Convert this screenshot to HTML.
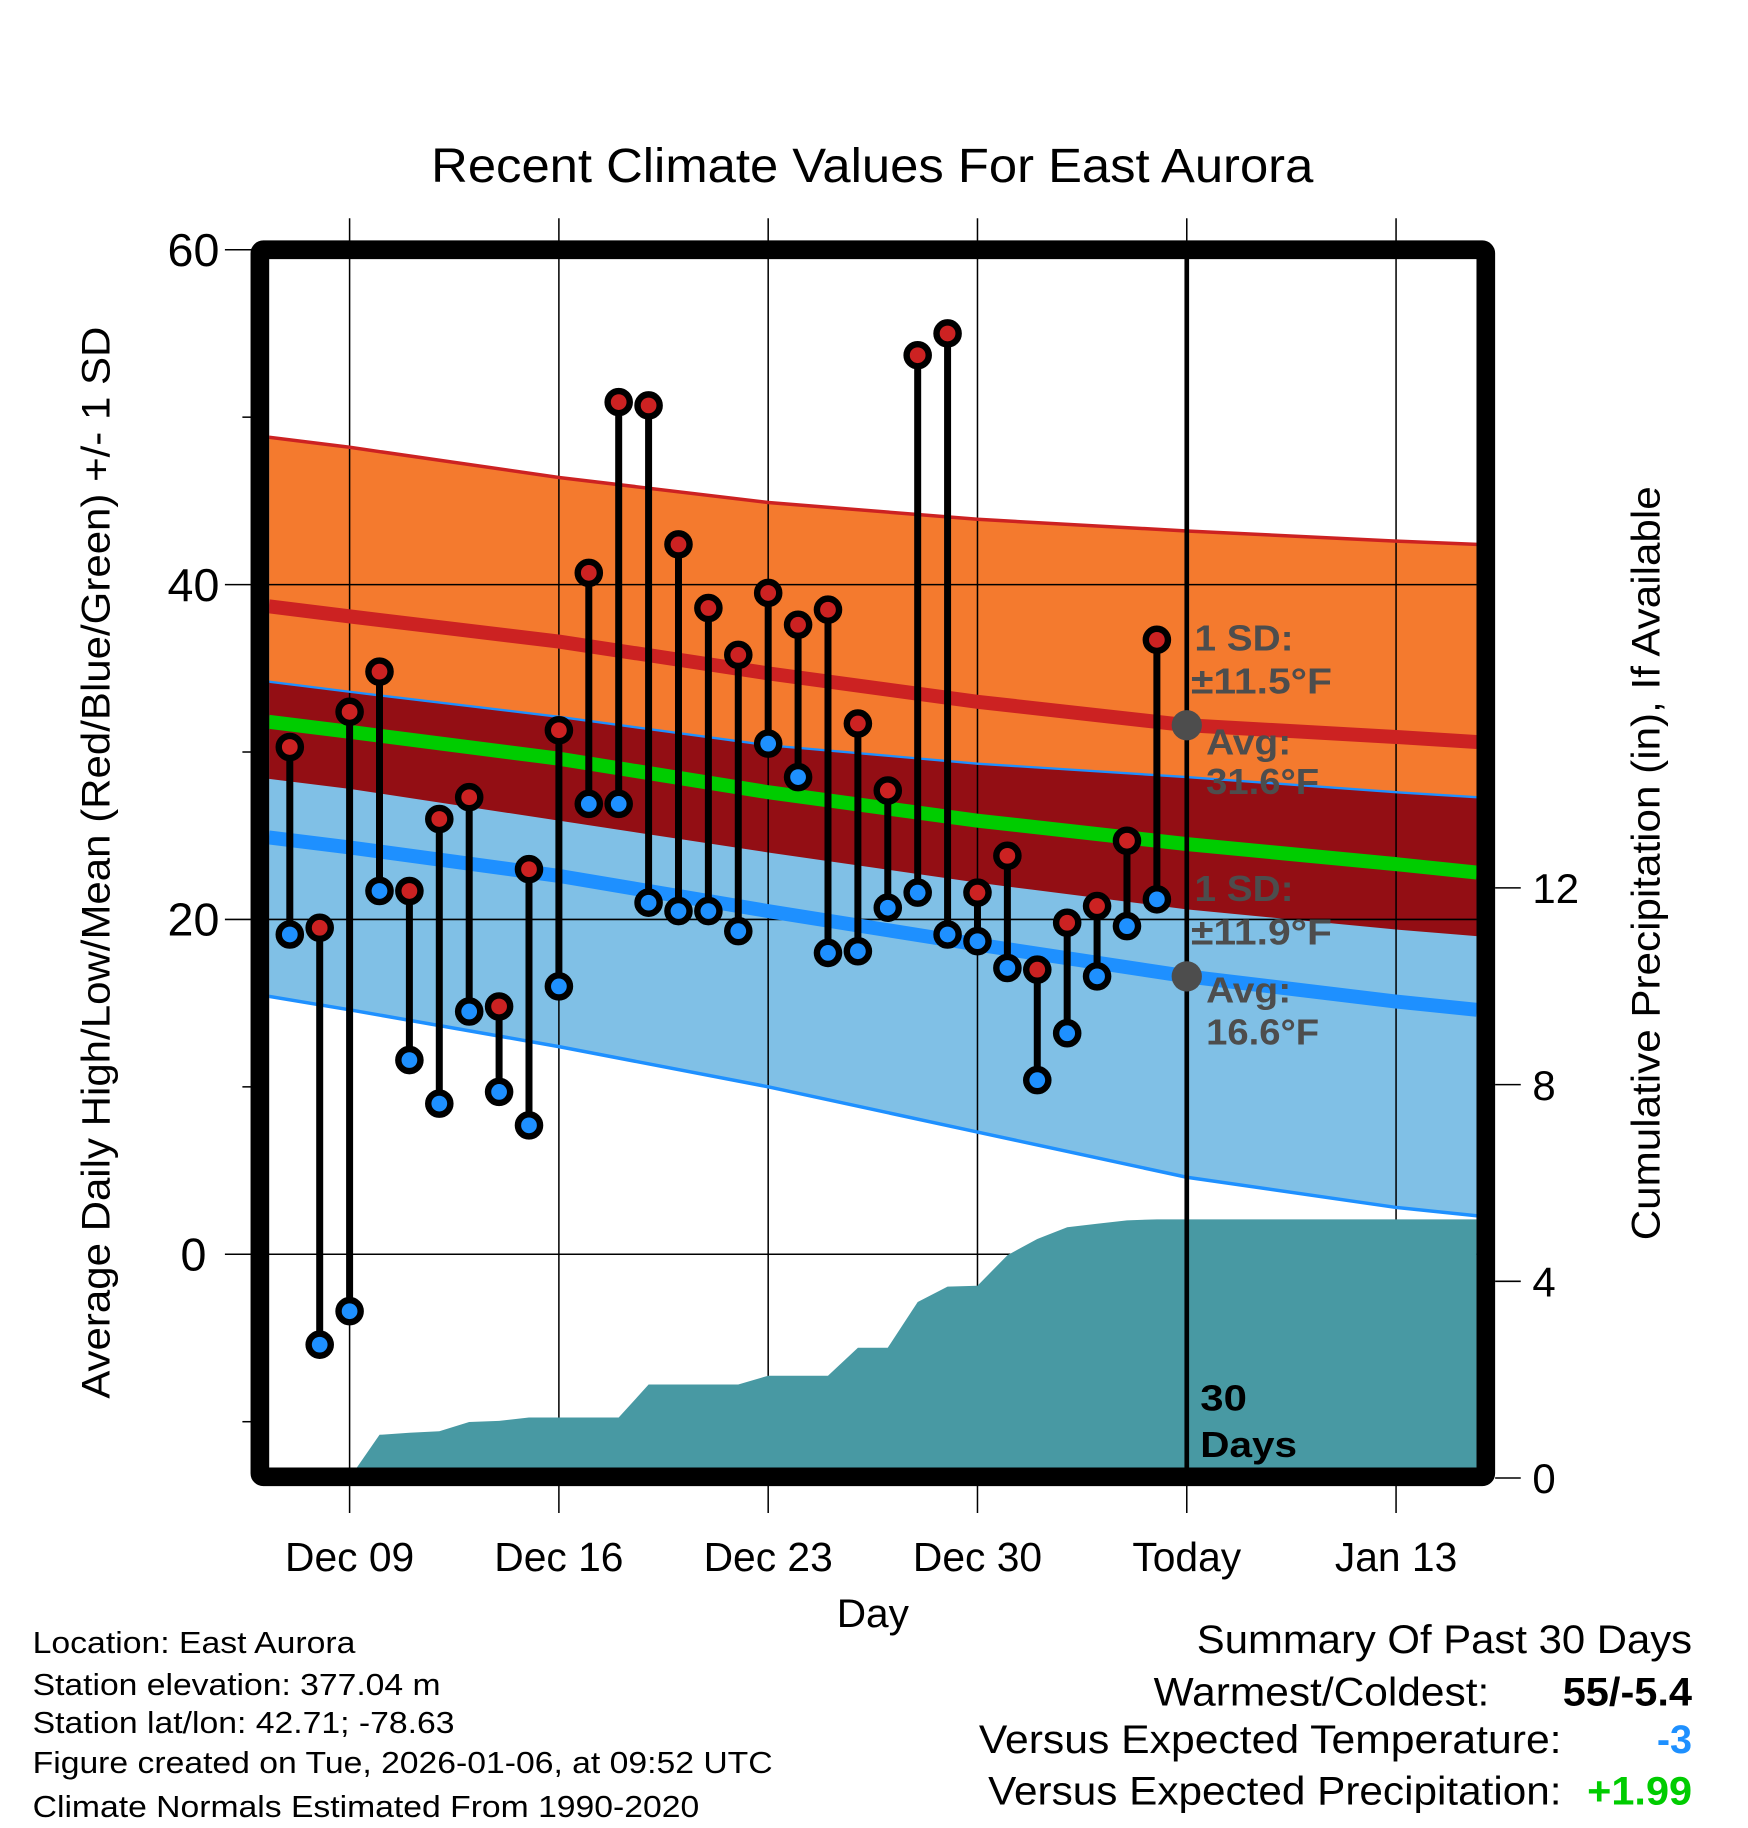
<!DOCTYPE html>
<html><head><meta charset="utf-8"><style>
html,body{margin:0;padding:0;background:#fff}
svg{display:block;font-family:"Liberation Sans",Arial,sans-serif}
</style></head><body>
<svg id="chart" width="1748" height="1828" viewBox="0 0 1500 1568" xmlns="http://www.w3.org/2000/svg">
<defs><clipPath id="plotclip"><rect x="231" y="222" width="1036" height="1038"/></clipPath></defs>
<g id="bands" clip-path="url(#plotclip)"></g>
<g id="grid"></g>
<g id="precip" clip-path="url(#plotclip)"></g>
<g id="lines" clip-path="url(#plotclip)"></g>
<g id="marks"></g>
<rect x="223" y="214" width="1052" height="1053" fill="none" stroke="#000" stroke-width="16" rx="3"/>
<g id="axes"></g>
<g fill="#4d4d4d" font-weight="bold" font-size="31" lengthAdjust="spacingAndGlyphs">
<text x="1025" y="558" textLength="85" lengthAdjust="spacingAndGlyphs">1 SD:</text>
<text x="1022" y="595" textLength="121" lengthAdjust="spacingAndGlyphs">±11.5°F</text>
<text x="1035" y="647" textLength="73" lengthAdjust="spacingAndGlyphs">Avg:</text>
<text x="1035" y="681" textLength="97" lengthAdjust="spacingAndGlyphs">31.6°F</text>
<text x="1025" y="773" textLength="85" lengthAdjust="spacingAndGlyphs">1 SD:</text>
<text x="1022" y="810" textLength="121" lengthAdjust="spacingAndGlyphs">±11.9°F</text>
<text x="1035" y="860" textLength="73" lengthAdjust="spacingAndGlyphs">Avg:</text>
<text x="1035" y="896" textLength="97" lengthAdjust="spacingAndGlyphs">16.6°F</text>
</g>
<g fill="#000" font-weight="bold" font-size="31">
<text x="1030" y="1210" textLength="40" lengthAdjust="spacingAndGlyphs">30</text><text x="1030" y="1250" textLength="83" lengthAdjust="spacingAndGlyphs">Days</text>
</g>
<text x="370" y="156" textLength="757" lengthAdjust="spacingAndGlyphs" font-size="41">Recent Climate Values For East Aurora</text>
<text x="718" y="1396" textLength="62" lengthAdjust="spacingAndGlyphs" font-size="34">Day</text>
<text transform="translate(94,740) rotate(-90)" x="-460" y="0" textLength="920" lengthAdjust="spacingAndGlyphs" font-size="34">Average Daily High/Low/Mean (Red/Blue/Green) +/- 1 SD</text>
<text transform="translate(1424,741) rotate(-90)" x="-323" y="0" textLength="647" lengthAdjust="spacingAndGlyphs" font-size="34">Cumulative Precipitation (in), If Available</text>
<g font-size="26">
<text x="28" y="1418" textLength="277" lengthAdjust="spacingAndGlyphs">Location: East Aurora</text>
<text x="28" y="1454" textLength="350" lengthAdjust="spacingAndGlyphs">Station elevation: 377.04 m</text>
<text x="28" y="1487" textLength="362" lengthAdjust="spacingAndGlyphs">Station lat/lon: 42.71; -78.63</text>
<text x="28" y="1521" textLength="635" lengthAdjust="spacingAndGlyphs">Figure created on Tue, 2026-01-06, at 09:52 UTC</text>
<text x="28" y="1559" textLength="572" lengthAdjust="spacingAndGlyphs">Climate Normals Estimated From 1990-2020</text>
</g>
<g font-size="34">
<text x="1027" y="1418" textLength="425" lengthAdjust="spacingAndGlyphs">Summary Of Past 30 Days</text>
<text x="990" y="1463" textLength="288" lengthAdjust="spacingAndGlyphs">Warmest/Coldest:</text>
<text x="1341" y="1463" textLength="111" lengthAdjust="spacingAndGlyphs" font-weight="bold">55/-5.4</text>
<text x="840" y="1504" textLength="500" lengthAdjust="spacingAndGlyphs">Versus Expected Temperature:</text>
<text x="1452" y="1504" text-anchor="end" font-weight="bold" fill="#1e90ff">-3</text>
<text x="848" y="1548" textLength="492" lengthAdjust="spacingAndGlyphs">Versus Expected Precipitation:</text>
<text x="1362" y="1548" textLength="90" lengthAdjust="spacingAndGlyphs" font-weight="bold" fill="#00cc00">+1.99</text>
</g>
</svg>
<script>
// days since Dec 09 for daily observations (Dec 07 .. Jan 05)
const obsStart = -2;
const highs = [30.3,19.5,32.4,34.8,21.7,26.0,27.3,14.8,23.0,31.3,40.7,50.9,50.7,42.4,38.6,35.8,39.5,37.6,38.5,31.7,27.7,53.7,55.0,21.6,23.8,17.0,19.8,20.8,24.7,36.7];
const lows  = [19.1,-5.4,-3.4,21.7,11.6,9.0,14.5,9.7,7.7,16.0,26.9,26.9,21.0,20.5,20.5,19.3,30.5,28.5,18.0,18.1,20.7,21.6,19.1,18.7,17.1,10.4,13.2,16.6,19.6,21.2];
// normals sampled at these day offsets (from Dec 09)
const normDays   = [-2.7,0,7,14,21,28,35,37.7];
const highNormal = [38.7,38.1,36.6,34.7,33.0,31.6,30.9,30.6];
const highUpper  = [48.8,48.2,46.4,44.9,43.9,43.2,42.6,42.4];
const highLower  = [28.4,27.8,25.9,24.0,22.2,20.6,19.4,19.0];
const meanNormal = [31.8,31.2,29.6,27.6,25.9,24.5,23.3,22.8];
const lowNormal  = [24.9,24.3,22.6,20.5,18.5,16.6,15.1,14.6];
const lowUpper   = [34.2,33.6,32.1,30.4,29.3,28.5,27.6,27.3];
const lowLower   = [15.4,14.6,12.4,10.0,7.3,4.6,2.8,2.3];
// cumulative precipitation (in), Dec 09 .. Jan 05
const precipStart = 0;
const precip = [0,0.88,0.92,0.95,1.14,1.16,1.23,1.23,1.23,1.23,1.9,1.9,1.9,1.9,2.08,2.08,2.08,2.65,2.65,3.58,3.89,3.91,4.53,4.86,5.1,5.17,5.24,5.26];
const xTickDays = [0,7,14,21,28,35];
const xTickLabels = ["Dec 09","Dec 16","Dec 23","Dec 30","Today","Jan 13"];
const yTicks = [0,20,40,60];
const yMinor = [-10,10,30,50];
const pTicks = [0,4,8,12];

const NS="http://www.w3.org/2000/svg";
const X=d=>300+d*25.657;
const Y=v=>1076-v*14.367;
const P=p=>1268-p*42.2;
const X0=231,X1=1267;
function mk(parent,tag,attrs){const e=document.createElementNS(NS,tag);for(const k in attrs)e.setAttribute(k,attrs[k]);document.getElementById(parent).appendChild(e);return e;}
function pts(days,vals){return days.map((d,i)=>X(d).toFixed(1)+","+Y(vals[i]).toFixed(1));}
function band(up,lo,fill,name){
  const p=pts(normDays,up).concat(pts(normDays,lo).reverse());
  const e=mk('bands','polygon',{points:p.join(' '),fill:fill});
  
  
}
band(highUpper,highLower,'#f47a2e','high-sd-band');
band(lowUpper,lowLower,'#80c0e6','low-sd-band');
{const p=pts(normDays,lowUpper).concat(pts(normDays,highLower).reverse());
 const e=mk('bands','polygon',{points:p.join(' '),fill:'#930e14'});
 
 }
function line(vals,col,w,name){
  const e=mk('lines','polyline',{points:pts(normDays,vals).join(' '),fill:'none',stroke:col,'stroke-width':w});
  
  
}
line(highUpper,'#cc2222',3,'high-upper-line');
line(lowUpper,'#1e90ff',2,'low-upper-line');
line(lowLower,'#1e90ff',3,'low-lower-line');
line(highNormal,'#cc2222',12,'high-normal-line');
line(meanNormal,'#00cc00',12,'mean-normal-line');
line(lowNormal,'#1e90ff',12,'low-normal-line');
xTickDays.forEach(d=>{const e=mk('grid','line',{x1:X(d),x2:X(d),y1:187,y2:1298,stroke:'#000','stroke-width':1.3});
 
 });
yTicks.forEach(v=>{const e=mk('grid','line',{x1:193,x2:X1,y1:Y(v),y2:Y(v),stroke:'#000','stroke-width':1.3});
 
 });
{const p=[X(precipStart)+","+P(0)];
 precip.forEach((v,i)=>p.push(X(precipStart+i).toFixed(1)+","+P(v).toFixed(1)));
 p.push(X1+","+P(precip[precip.length-1]).toFixed(1));p.push(X1+","+P(0));
 const e=mk('precip','polygon',{points:p.join(' '),fill:'#4899a3'});
 
 }
{const e=mk('marks','line',{x1:X(28),x2:X(28),y1:214,y2:1267,stroke:'#000','stroke-width':4});
 
 
 const c=mk('marks','circle',{cx:X(28),cy:Y(highNormal[5]),r:13,fill:'#4d4d4d'});
 
 
 const c2=mk('marks','circle',{cx:X(28),cy:Y(lowNormal[5]),r:13,fill:'#4d4d4d'});
 
 }
highs.forEach((h,i)=>{const x=X(obsStart+i);
 const s=mk('marks','line',{x1:x,x2:x,y1:Y(h),y2:Y(lows[i]),stroke:'#000','stroke-width':6});
 
 });
highs.forEach((h,i)=>{const x=X(obsStart+i);
 const a=mk('marks','circle',{cx:x,cy:Y(h),r:9.5,fill:'#cc2222',stroke:'#000','stroke-width':5.5});
 
 
 const b=mk('marks','circle',{cx:x,cy:Y(lows[i]),r:9.5,fill:'#1e90ff',stroke:'#000','stroke-width':5.5});
 
 });
yTicks.forEach(v=>{const t=mk('axes','text',{x:166,y:Y(v)+14,'text-anchor':'middle','font-size':40});t.textContent=v;
 
 });
yMinor.forEach(v=>{const e=mk('axes','line',{x1:208,x2:216,y1:Y(v),y2:Y(v),stroke:'#000','stroke-width':1.3});
 
 });
pTicks.forEach(v=>{const e=mk('axes','line',{x1:1283,x2:1305,y1:P(v),y2:P(v),stroke:'#000','stroke-width':1.3});
 
 
 const t=mk('axes','text',{x:1315,y:P(v)+13,'font-size':36});t.textContent=v;
 
 });
xTickDays.forEach((d,i)=>{const t=mk('axes','text',{x:X(d),y:1348,'text-anchor':'middle','font-size':35});t.textContent=xTickLabels[i];
 
 });
</script>
</body></html>
